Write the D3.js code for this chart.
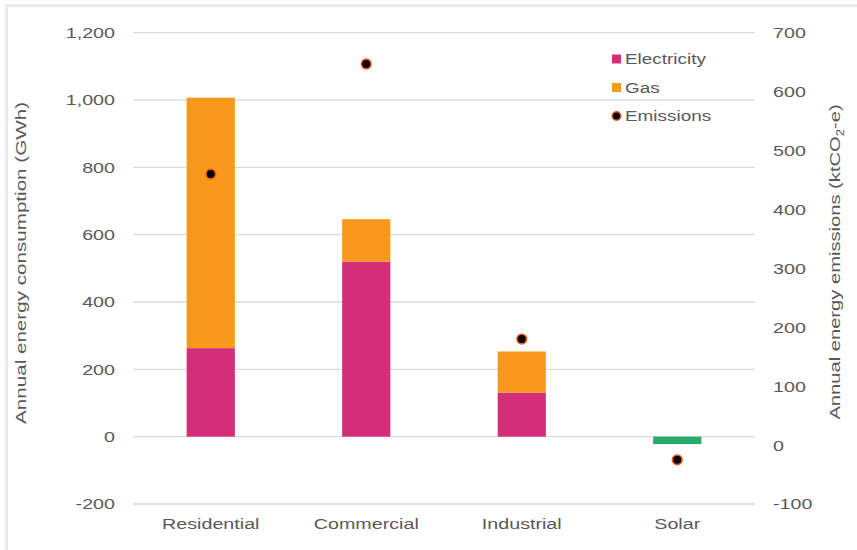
<!DOCTYPE html>
<html>
<head>
<meta charset="utf-8">
<script src="https://cdn.jsdelivr.net/npm/d3@7"></script>
<style>
  html, body { margin: 0; padding: 0; background: #fff; }
  svg { display: block; font-family: "Liberation Sans", Arial, sans-serif; }
</style>
</head>
<body>
<svg id="chart" width="857" height="550"></svg>
<script>
// Sector energy use (GWh) and emissions (ktCO2-e)
const categories = ["Residential", "Commercial", "Industrial", "Solar"];
const electricity = [263, 520, 131, 0];
const gas = [744, 126, 122, 0];
const solar = [0, 0, 0, -22];
const emissions = [460, 647, 180, -25];
const leftTicks = [-200, 0, 200, 400, 600, 800, 1000, 1200];
const rightTicks = [-100, 0, 100, 200, 300, 400, 500, 600, 700];

const colors = { electricity: "#d52e79", gas: "#f8981d", solar: "#2aab6c", text: "#595959", grid: "#d9d9d9" };
const FONT = 15.5;
const WIDEN = 1.27;   // text is set wide, like the original chart template

const svg = d3.select("#chart");
const plot = { left: 133, right: 755, top: 32.7, bottom: 504 };

// stretch a text node horizontally by a factor
function widen(sel, factor) {
  sel.each(function () {
    const w = this.getComputedTextLength();
    d3.select(this).attr("textLength", w * factor).attr("lengthAdjust", "spacingAndGlyphs");
  });
}

// faint frame on the top and left edges
svg.append("line").attr("x1", 6).attr("x2", 857).attr("y1", 5.5).attr("y2", 5.5)
  .attr("stroke", "#ececec").attr("stroke-width", 3);
svg.append("line").attr("x1", 6.5).attr("x2", 6.5).attr("y1", 5).attr("y2", 550)
  .attr("stroke", "#ececec").attr("stroke-width", 3);

const x = d3.scaleBand().domain(categories).range([plot.left, plot.right]).paddingInner(0.69).paddingOuter(0.345);
const yL = d3.scaleLinear().domain([-200, 1200]).range([plot.bottom, plot.top]);
const yR = d3.scaleLinear().domain([-100, 700]).range([plot.bottom, plot.top]);

// gridlines
svg.append("g").selectAll("line").data(leftTicks).join("line")
  .attr("x1", plot.left).attr("x2", plot.right)
  .attr("y1", d => yL(d)).attr("y2", d => yL(d))
  .attr("stroke", colors.grid).attr("stroke-width", 1.3);

const fmt = d => d3.format(",")(d).replace("\u2212", "-");

// left axis labels
const leftAxis = d3.axisLeft(yL).tickValues(leftTicks).tickSize(0).tickPadding(0).tickFormat(fmt);
const gL = svg.append("g").attr("transform", `translate(${plot.left - 18},0)`).call(leftAxis);
gL.select(".domain").remove();
gL.selectAll("text").attr("fill", colors.text).attr("font-size", FONT)
  .attr("font-family", "Liberation Sans, Arial, sans-serif").call(widen, WIDEN);

// right axis labels
const rightAxis = d3.axisRight(yR).tickValues(rightTicks).tickSize(0).tickPadding(0).tickFormat(fmt);
const gR = svg.append("g").attr("transform", `translate(${plot.right + 18},0)`).call(rightAxis);
gR.select(".domain").remove();
gR.selectAll("text").attr("fill", colors.text).attr("font-size", FONT)
  .attr("font-family", "Liberation Sans, Arial, sans-serif").call(widen, WIDEN);

// category labels
const bottomAxis = d3.axisBottom(x).tickSize(0).tickPadding(0);
const gB = svg.append("g").attr("transform", `translate(0,${plot.bottom + 14})`).call(bottomAxis);
gB.select(".domain").remove();
gB.selectAll("text").attr("fill", colors.text).attr("font-size", FONT)
  .attr("font-family", "Liberation Sans, Arial, sans-serif").call(widen, WIDEN);

// stacked bars
const rows = categories.map((c, i) => ({ cat: c, electricity: electricity[i], gas: gas[i] }));
const stack = d3.stack().keys(["electricity", "gas"])(rows);
svg.append("g").selectAll("g").data(stack).join("g")
  .attr("fill", d => colors[d.key])
  .selectAll("rect").data(d => d.filter(s => s[1] - s[0] > 0)).join("rect")
  .attr("x", d => x(d.data.cat)).attr("width", x.bandwidth())
  .attr("y", d => yL(d[1])).attr("height", d => yL(d[0]) - yL(d[1]));

// solar (negative) bar
svg.append("g").selectAll("rect").data(categories.map((c, i) => ({ cat: c, v: solar[i] })).filter(d => d.v !== 0))
  .join("rect")
  .attr("fill", colors.solar)
  .attr("x", d => x(d.cat)).attr("width", x.bandwidth())
  .attr("y", d => yL(0)).attr("height", d => yL(d.v) - yL(0));

// emissions markers
svg.append("g").selectAll("circle").data(categories.map((c, i) => ({ cat: c, v: emissions[i] })))
  .join("circle")
  .attr("cx", d => x(d.cat) + x.bandwidth() / 2).attr("cy", d => yR(d.v))
  .attr("r", 4.8).attr("fill", "#000").attr("stroke", "#ec5a1c").attr("stroke-width", 1.6);

// axis titles
svg.append("text").attr("transform", "translate(26,263) rotate(-90)")
  .attr("text-anchor", "middle").attr("fill", colors.text).attr("font-size", FONT)
  .text("Annual energy consumption (GWh)").call(widen, 1.33);
const rt = svg.append("text").attr("transform", "translate(840,262) rotate(-90)")
  .attr("text-anchor", "middle").attr("fill", colors.text).attr("font-size", FONT);
rt.append("tspan").text("Annual energy emissions (ktCO");
rt.append("tspan").attr("font-size", 10).attr("dy", 4).text("2");
rt.append("tspan").attr("dy", -4).text("-e)");
rt.call(widen, 1.3);

// legend
const legend = [
  { label: "Electricity", type: "rect", color: colors.electricity },
  { label: "Gas", type: "rect", color: colors.gas },
  { label: "Emissions", type: "dot" }
];
const lg = svg.append("g").attr("transform", "translate(612,59)");
legend.forEach((d, i) => {
  const g = lg.append("g").attr("transform", `translate(0,${i * 28.5})`);
  if (d.type === "rect") {
    g.append("rect").attr("x", 0).attr("y", -4.5).attr("width", 9).attr("height", 9).attr("fill", d.color);
  } else {
    g.append("circle").attr("cx", 4.5).attr("cy", 0).attr("r", 4.3)
      .attr("fill", "#000").attr("stroke", "#ec5a1c").attr("stroke-width", 1.5);
  }
  g.append("text").attr("x", 13).attr("y", 0).attr("dy", "0.35em")
    .attr("fill", colors.text).attr("font-size", FONT).text(d.label).call(widen, 1.22);
});
</script>
</body>
</html>
